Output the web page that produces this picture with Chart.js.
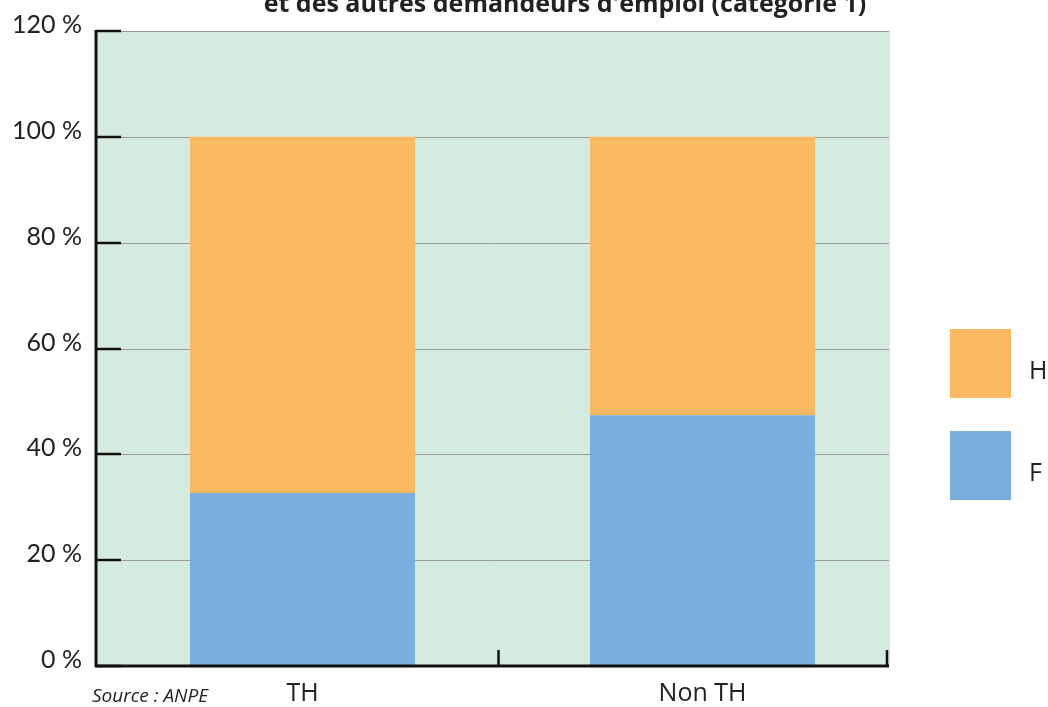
<!DOCTYPE html>
<html>
<head>
<meta charset="utf-8">
<script src="https://cdn.jsdelivr.net/npm/chart.js@4"></script>
<style>
  html, body { margin: 0; padding: 0; background: #fff; }
  #wrap { position: relative; width: 1048px; height: 707px; }
</style>
</head>
<body>
<div id="wrap"><canvas id="bar-chart-canvas" width="1048" height="707"></canvas></div>
<script>
// Données
const categories = ["TH", "Non TH"];
const femmes = [32.7, 47.4];
const hommes = [67.3, 52.6];
const yTicks = [0, 20, 40, 60, 80, 100, 120];
const titre = "et des autres demandeurs d'emploi (catégorie 1)";
const source = "Source : ANPE";

const orange = "#fcb964";
const bleu = "#7aaedd";

// cadre du graphique (un peu plus étroit que la zone des barres)
const cadreGauche = 96;
const cadreDroite = 889;

// fond vert, grille, repères noirs, légende et textes
const decor = {
  id: "decor",
  beforeDatasetsDraw(chart) {
    const { ctx, chartArea: a, scales } = chart;
    ctx.save();
    ctx.fillStyle = "#d6ebdf";
    ctx.fillRect(cadreGauche, a.top, cadreDroite - cadreGauche + 1, a.bottom - a.top);
    ctx.strokeStyle = "#9a9a9a";
    ctx.lineWidth = 1;
    yTicks.forEach(v => {
      const y = Math.round(scales.y.getPixelForValue(v)) + 0.5;
      ctx.beginPath();
      ctx.moveTo(cadreGauche, y);
      ctx.lineTo(cadreDroite, y);
      ctx.stroke();
    });
    ctx.restore();
  },
  afterDraw(chart) {
    const { ctx, chartArea: a, scales } = chart;
    ctx.save();
    ctx.strokeStyle = "#111";
    // axe gauche
    ctx.lineWidth = 3;
    ctx.beginPath();
    ctx.moveTo(cadreGauche, a.top - 1);
    ctx.lineTo(cadreGauche, a.bottom + 1);
    ctx.stroke();
    // axe bas
    ctx.beginPath();
    ctx.moveTo(cadreGauche - 1, a.bottom);
    ctx.lineTo(cadreDroite, a.bottom);
    ctx.stroke();
    // petits repères sur y
    ctx.lineWidth = 2.5;
    yTicks.forEach(v => {
      const y = Math.round(scales.y.getPixelForValue(v));
      ctx.beginPath();
      ctx.moveTo(cadreGauche, y);
      ctx.lineTo(cadreGauche + 25, y);
      ctx.stroke();
    });
    // repères sur x entre catégories
    const half = (scales.x.getPixelForValue(1) - scales.x.getPixelForValue(0)) / 2;
    [scales.x.getPixelForValue(0) + half - 4, cadreDroite - 2].forEach(x => {
      ctx.beginPath();
      ctx.moveTo(x, a.bottom);
      ctx.lineTo(x, a.bottom - 16);
      ctx.stroke();
    });

    // légende
    const items = [chart.data.datasets[1], chart.data.datasets[0]];
    ctx.font = "25px 'Open Sans'";
    ctx.textBaseline = "middle";
    ctx.textAlign = "left";
    items.forEach((ds, i) => {
      const top = 329 + i * 102;
      ctx.fillStyle = ds.backgroundColor;
      ctx.fillRect(950, top, 61, 69);
      ctx.fillStyle = "#222";
      ctx.fillText(ds.label, 1029, top + 43);
    });

    // titre (coupé en haut)
    ctx.font = "bold 25px 'Open Sans'";
    ctx.textAlign = "center";
    ctx.textBaseline = "alphabetic";
    ctx.fillStyle = "#222";
    ctx.fillText(titre, 565, 12);

    // source
    ctx.font = "italic 19px 'Open Sans'";
    ctx.textAlign = "left";
    ctx.textBaseline = "middle";
    ctx.fillText(source, 92, 697);
    ctx.restore();
  }
};

const barChart = document.getElementById("bar-chart-canvas");

new Chart(barChart, {
  type: "bar",
  data: {
    labels: categories,
    datasets: [
      {
        label: "F",
        data: femmes,
        backgroundColor: bleu,
      },
      {
        label: "H",
        data: hommes,
        backgroundColor: orange,
      },
    ],
  },
  options: {
    responsive: false,
    animation: false,
    devicePixelRatio: 1,
    layout: {
      padding: { top: 31, right: 145.5, left: 0, bottom: 0 },
    },
    plugins: {
      legend: { display: false },
      tooltip: { enabled: false },
    },
    datasets: {
      bar: {
        barPercentage: 0.5625,
        categoryPercentage: 1,
      },
    },
    scales: {
      x: {
        stacked: true,
        border: { display: false },
        grid: { display: false, drawTicks: false },
        ticks: {
          padding: 13,
          maxRotation: 0,
          autoSkip: false,
          color: "#222",
          font: { family: "'Open Sans'", size: 25 },
        },
        afterFit(scale) {
          scale.height = 41;
          scale.paddingLeft = 0;
          scale.paddingRight = 0;
        },
      },
      y: {
        stacked: true,
        min: 0,
        max: 120,
        border: { display: false },
        grid: { display: false, drawTicks: false },
        afterBuildTicks(scale) {
          scale.ticks = yTicks.map(v => ({ value: v }));
        },
        ticks: {
          padding: 20.5,
          labelOffset: -6,
          autoSkip: false,
          color: "#222",
          font: { family: "Lato", size: 25 },
          callback: v => v + " %",
        },
        afterFit(scale) {
          scale.width = 102.5;
          scale.paddingTop = 0;
          scale.paddingBottom = 0;
        },
      },
    },
  },
  plugins: [decor],
});
</script>
</body>
</html>
